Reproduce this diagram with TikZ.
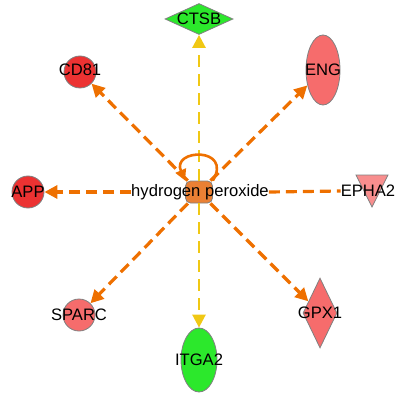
\documentclass[tikz,border=0pt]{standalone}
\usepackage{fontspec}
\setmainfont{Liberation Sans}
\usetikzlibrary{shapes.geometric,arrows.meta}

\definecolor{upred}{RGB}{236,50,50}
\definecolor{uppink}{RGB}{246,108,108}
\definecolor{uplight}{RGB}{248,142,142}
\definecolor{downgreen}{RGB}{44,232,44}
\definecolor{edgeorange}{RGB}{238,112,0}
\definecolor{edgeyellow}{RGB}{240,200,20}
\definecolor{chemorange}{RGB}{234,128,52}

\begin{document}
\begin{tikzpicture}[x=1pt, y=-1pt,
  gene/.style={draw=gray, line width=0.8pt, inner sep=0pt},
  genetext/.style={font=\fontsize{16.6}{18}\selectfont, inner sep=0pt},
  uparrow/.style={draw=edgeorange, line width=3.2pt, dash pattern=on 11pt off 6pt,
    -{Triangle[length=13pt,width=13pt]}},
  upline/.style={draw=edgeorange, line width=3.2pt, dash pattern=on 11pt off 6pt},
  yelarrow/.style={draw=edgeyellow, line width=2.6pt, dash pattern=on 12pt off 7pt,
    -{Triangle[length=13pt,width=13pt]}}]
\useasboundingbox (0,0) rectangle (396,398);

% Central compound
\node[gene, rounded corners=5pt, fill=chemorange, minimum width=27pt, minimum height=22pt] (hp) at (199,192) {};

% Genes around it
\node[gene, diamond, fill=downgreen, minimum width=68pt, minimum height=31pt] (ctsb) at (199,19) {};
\node[gene, circle, fill=upred, minimum size=32pt] (cd81) at (80,72) {};
\node[gene, ellipse, fill=uppink, minimum width=34pt, minimum height=70pt] (eng) at (323,70) {};
\node[gene, circle, fill=upred, minimum size=32pt] (app) at (28,192) {};
\coordinate (epha2) at (372,191);
\filldraw[gene, fill=uplight] (epha2) ++(-16,-16) -- ++(32,0) -- ++(-16,32) -- cycle;
\node[gene, circle, fill=uppink, minimum size=32pt] (sparc) at (79,315) {};
\node[gene, diamond, fill=uppink, minimum width=34pt, minimum height=70pt] (gpx1) at (320,313) {};
\node[gene, ellipse, fill=downgreen, minimum width=36pt, minimum height=64pt] (itga2) at (199,360) {};

% Labels
\node[genetext] (hplabel) at (200,192) {hydrogen peroxide};
\node[genetext] (ctsbt) at (ctsb) {CTSB};
\node[genetext] (cd81t) at (80,70) {CD81};
\node[genetext] (engt) at (eng) {ENG};
\node[genetext] (appt) at (app) {APP};
\node[genetext] (epha2t) at (368,191) {EPHA2};
\node[genetext] (sparct) at (sparc) {SPARC};
\node[genetext] (gpx1t) at (gpx1) {GPX1};
\node[genetext] (itga2t) at (itga2) {ITGA2};

% Relations
\foreach \g in {cd81, eng, sparc, gpx1} {
  \draw[uparrow] (hp) -- (\g);
}
\draw[uparrow] (hplabel.west) -- (app);
\draw[upline] (hplabel.east) -- (epha2t.west);
\draw[yelarrow] (hp) -- (ctsb);
\draw[yelarrow] (hp) -- (itga2);

% Self loop
\draw[edgeorange, line width=2.6pt, -{Triangle[length=11pt,width=11pt]}]
  (hp.north east) .. controls +(20,-34) and +(-14,-32) .. (hp.north west);

\end{tikzpicture}
\end{document}
